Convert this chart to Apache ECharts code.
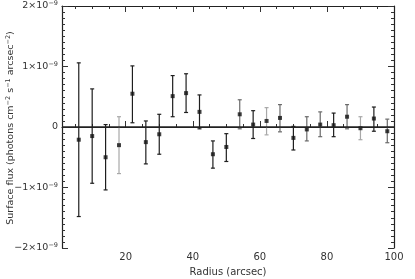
<!DOCTYPE html>
<html><head><meta charset="utf-8">
<script src="https://cdn.jsdelivr.net/npm/echarts@6/dist/echarts.min.js"></script>
<style>html,body{margin:0;padding:0;background:#fff}#c{width:415px;height:279px}</style>
</head><body><div id="c"></div>
<script>
// Values in units of 1e-9 photons cm^-2 s^-1 arcsec^-2
const radius = [6,10,14,18,22,26,30,34,38,42,46,50,54,58,62,66,70,74,78,82,86,90,94,98];
const flux   = [-0.21,-0.15,-0.50,-0.30,0.55,-0.25,-0.12,0.51,0.56,0.25,-0.45,-0.33,0.21,0.04,0.10,0.15,-0.18,-0.04,0.04,0.03,0.17,-0.02,0.14,-0.07];
const errUpper = [1.06,0.63,0.04,0.17,1.01,0.10,0.21,0.85,0.88,0.53,-0.23,-0.11,0.45,0.27,0.32,0.37,0.01,0.17,0.25,0.23,0.37,0.17,0.33,0.13];
const errLower = [-1.48,-0.93,-1.04,-0.77,0.07,-0.61,-0.45,0.17,0.24,-0.03,-0.68,-0.57,-0.03,-0.19,-0.13,-0.08,-0.38,-0.23,-0.16,-0.16,-0.03,-0.21,-0.07,-0.26];
const xTickLabels = [20,40,60,80,100];
const yTicks = [-2,-1,0,1,2];

// styling (shade of each error bar)
const shadeIdx = [0,0,0,2,0,0,0,0,0,0,0,0,1,0,2,1,0,1,1,0,1,2,0,1];
const shades = ['#1e1e1e','#6a6a6a','#a8a8a8'];

const chart = echarts.init(document.getElementById('c'), null, {renderer:'canvas'});
const font = 'DejaVu Sans';
const axLine = {show:true, lineStyle:{color:'#222', width:1.2}};
const minorX = [5,10,15,25,30,35,45,50,55,65,70,75,85,90,95];
const supRich = {s:{fontSize:6.5, fontFamily:font, fill:'#333', color:'#333', verticalAlign:'top', padding:[0,0,5,0]}};
function yLab(v){ if (v===0) return '0'; return (v<0?'−':'')+Math.abs(v)+'×10{s|−9}'; }

const errData = radius.map((r,i)=>[r, errLower[i], errUpper[i], shadeIdx[i]]);
const ptData = radius.map((r,i)=>[r, flux[i]]);

chart.setOption({
  animation:false,
  grid:{left:62, right:21, top:6, bottom:31, containLabel:false, outerBoundsMode:'none'},
  graphic:[
    {type:'text', x:11, y:128, rotation:Math.PI/2, silent:true,
     style:{text:'Surface flux (photons cm{s|−2} s{s|−1} arcsec{s|−2})', fill:'#333',
       font:'9.5px "DejaVu Sans"', fontFamily:font, fontSize:9.5, align:'center', verticalAlign:'middle', rich:supRich}}
  ],
  xAxis:[
    {type:'value', position:'bottom', min:1, max:100, axisLine:axLine,
     axisTick:{show:true, inside:true, length:6, customValues:[20,40,60,80], lineStyle:{color:'#333'}},
     axisLabel:{show:true, customValues:xTickLabels, color:'#333', fontFamily:font, fontSize:10, margin:4},
     splitLine:{show:false},
     name:'Radius (arcsec)', nameLocation:'middle', nameGap:19,
     nameTextStyle:{color:'#333', fontFamily:font, fontSize:10}},
    {type:'value', position:'bottom', min:1, max:100, axisLine:{show:false},
     axisTick:{show:true, inside:true, length:3, customValues:minorX, lineStyle:{color:'#333'}},
     axisLabel:{show:false}, splitLine:{show:false}},
    {type:'value', position:'top', min:1, max:100, axisLine:axLine,
     axisTick:{show:true, inside:true, length:6, customValues:[20,40,60,80], lineStyle:{color:'#333'}},
     axisLabel:{show:false}, splitLine:{show:false}},
    {type:'value', position:'top', min:1, max:100, axisLine:{show:false},
     axisTick:{show:true, inside:true, length:3, customValues:minorX, lineStyle:{color:'#333'}},
     axisLabel:{show:false}, splitLine:{show:false}}
  ],
  yAxis:[
    {type:'value', position:'left', min:-2, max:2, interval:1, axisLine:axLine,
     axisTick:{show:true, inside:true, length:6, lineStyle:{color:'#333'}},
     minorTick:{show:true, splitNumber:10, length:3, lineStyle:{color:'#333'}},
     axisLabel:{show:true, color:'#333', fontFamily:font, fontSize:9.5, margin:4,
       formatter:yLab, rich:supRich},
     splitLine:{show:false}},
    {type:'value', position:'right', min:-2, max:2, interval:1, axisLine:axLine,
     axisTick:{show:true, inside:true, length:6, lineStyle:{color:'#333'}},
     minorTick:{show:true, splitNumber:10, length:3, lineStyle:{color:'#333'}},
     axisLabel:{show:false}, splitLine:{show:false}}
  ],
  series:[
    {type:'custom', xAxisIndex:0, yAxisIndex:0, data:errData, z:3,
     renderItem:function(params, api){
       const x = api.value(0);
       const lo = api.coord([x, api.value(1)]);
       const hi = api.coord([x, api.value(2)]);
       const col = shades[api.value(3)];
       const st = {stroke:col, lineWidth:1.2};
       const cw = 2;
       return {type:'group', children:[
         {type:'line', shape:{x1:lo[0], y1:lo[1], x2:hi[0], y2:hi[1]}, style:st},
         {type:'line', shape:{x1:lo[0]-cw, y1:lo[1], x2:lo[0]+cw, y2:lo[1]}, style:st},
         {type:'line', shape:{x1:hi[0]-cw, y1:hi[1], x2:hi[0]+cw, y2:hi[1]}, style:st}
       ]};
     }},
    {type:'scatter', xAxisIndex:0, yAxisIndex:0, data:ptData, symbol:'rect', symbolSize:4, z:4,
     itemStyle:{color:'#111'},
     markLine:{silent:true, symbol:'none', label:{show:false},
       lineStyle:{color:'#222', width:1.5, type:'solid'}, data:[{yAxis:0}]}}
  ]
});
</script></body></html>
